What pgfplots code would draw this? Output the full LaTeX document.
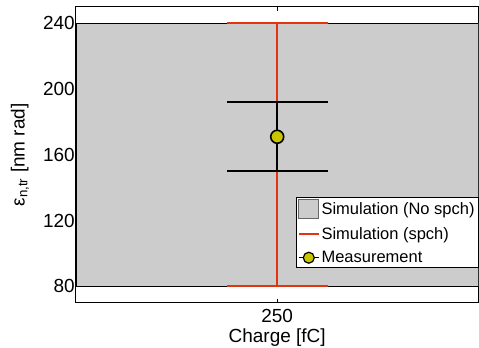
\documentclass[border=0pt]{standalone}
\usepackage{fontspec}
\setmainfont{Liberation Sans}
\usepackage{pgfplots}
\pgfplotsset{compat=1.18}
\definecolor{fillgray}{RGB}{204,204,204}
\definecolor{spchred}{RGB}{228,52,14}
\definecolor{measy}{RGB}{200,196,0}
\begin{document}
\begin{tikzpicture}
\begin{axis}[
  scale only axis, width=403pt, height=296pt,
  xmin=200, xmax=300, ymin=70, ymax=250,
  xtick={250}, ytick={80,120,160,200,240},
  tick align=inside, major tick length=4pt,
  tick style={black, line width=0.8pt},
  /pgf/number format/assume math mode=true,
  tick label style={font=\fontsize{19}{22}\selectfont},
  yticklabel style={inner sep=1pt, xshift=0pt},
  xticklabel style={inner sep=0pt, yshift=-6pt},
  xlabel={Charge [fC]},
  ylabel={ε\textsubscript{n,tr} [nm rad]},
  every axis x label/.style={at={(axis description cs:0.5,0)}, anchor=north, yshift=-25.5pt, inner sep=0pt, font=\fontsize{19}{22}\selectfont},
  every axis y label/.style={at={(axis description cs:-0.139,0.5)}, rotate=90, anchor=center, inner sep=0pt, font=\fontsize{19}{22}\selectfont},
  axis line style={line width=1pt},
  legend style={at={(rel axis cs:1,0.117)}, anchor=south east,
    font=\fontsize{16.5}{19}\selectfont, draw=black, line width=0.9pt,
    inner sep=1.5pt, row sep=6.5pt, fill=white},
  legend cell align=left,
]
\addplot[fill=fillgray, draw=black, line width=0.8pt,
  legend image code/.code={\draw[fill=fillgray, draw=gray!80!black, line width=0.8pt] (0pt,-9.5pt) rectangle (20pt,9.5pt);}]
  coordinates {(200,80) (300,80) (300,240) (200,240)} -- cycle;
\addlegendentry{Simulation (No spch)}
\addplot[spchred, line width=2pt,
  legend image code/.code={\draw[spchred, line width=1.6pt] (0pt,0pt) -- (20pt,0pt);}]
  coordinates {(250,80) (250,240)};
\addlegendentry{Simulation (spch)}
\addplot[spchred, line width=2pt, forget plot] coordinates {(237.5,240) (262.5,240)};
\addplot[spchred, line width=2pt, forget plot] coordinates {(237.5,80) (262.5,80)};
\addplot[black, line width=2pt, forget plot] coordinates {(250,150) (250,192)};
\addplot[black, line width=2pt, forget plot] coordinates {(237.5,192) (262.5,192)};
\addplot[black, line width=2pt, forget plot] coordinates {(237.5,150) (262.5,150)};
\addplot[black, line width=2pt, mark=*, mark size=6.5pt,
  mark options={fill=measy, draw=black, line width=1.6pt},
  legend image code/.code={\draw[black, line width=1.2pt] (0pt,0pt) -- (20pt,0pt);
    \fill[measy, draw=black, line width=1.2pt] (10pt,0pt) circle (5.5pt);}]
  coordinates {(250,171)};
\addlegendentry{Measurement}
\end{axis}
\path ([yshift=7pt]current axis.north east);
\path ([xshift=-76pt]current axis.west);
\path ([yshift=-45pt]current axis.south);
\end{tikzpicture}
\end{document}
